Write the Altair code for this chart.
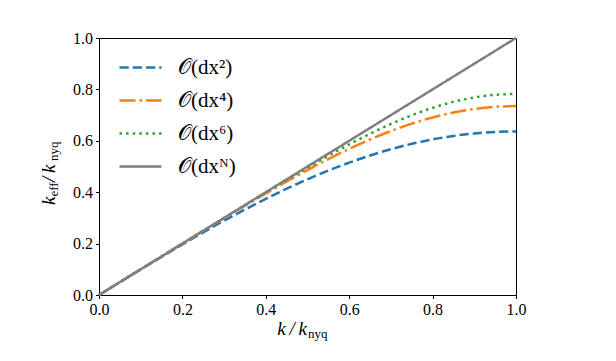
import altair as alt
import pandas as pd

# wavenumber axis k/k_nyq
k = [0.00, 0.05, 0.10, 0.15, 0.20, 0.25, 0.30, 0.35, 0.40, 0.45, 0.50,
     0.55, 0.60, 0.65, 0.70, 0.75, 0.80, 0.85, 0.90, 0.95, 1.00]
# effective wavenumber
o2 = [0.0, 0.0500, 0.0996, 0.1486, 0.1967, 0.2436, 0.2890, 0.3326, 0.3742, 0.4135, 0.4502,
      0.4841, 0.5150, 0.5428, 0.5672, 0.5882, 0.6055, 0.6190, 0.6288, 0.6347, 0.6366]
o4 = [0.0, 0.0500, 0.1000, 0.1500, 0.1998, 0.2495, 0.2988, 0.3474, 0.3952, 0.4416, 0.4862,
      0.5287, 0.5685, 0.6050, 0.6379, 0.6666, 0.6907, 0.7099, 0.7238, 0.7323, 0.7351]
o6 = [0.0, 0.0500, 0.1000, 0.1500, 0.2000, 0.2500, 0.2998, 0.3495, 0.3989, 0.4476, 0.4954,
      0.5417, 0.5860, 0.6275, 0.6655, 0.6994, 0.7283, 0.7516, 0.7687, 0.7791, 0.7826]
oN = [0.00, 0.05, 0.10, 0.15, 0.20, 0.25, 0.30, 0.35, 0.40, 0.45, 0.50,
      0.55, 0.60, 0.65, 0.70, 0.75, 0.80, 0.85, 0.90, 0.95, 1.00]

labels = ["𝒪(dx²)", "𝒪(dx⁴)", "𝒪(dx⁶)", "𝒪(dxᴺ)"]
colors = ["#1f77b4", "#ff7f0e", "#2ca02c", "#7f7f7f"]
dashes = [[9.25, 4], [16, 4, 2.5, 4], [2.5, 4.1], [1, 0]]
xticks = [0.0, 0.2, 0.4, 0.6, 0.8, 1.0]

rows = []
for lab, ys in zip(labels, [o2, o4, o6, oN]):
    for kv, yv in zip(k, ys):
        rows.append({"k": kv, "keff": yv, "series": lab})
df = pd.DataFrame(rows)

FONT = "Liberation Serif"
W, H = 417, 257

leg = alt.Legend(orient="none", legendX=19, legendY=7, title=None,
                 symbolType="stroke", symbolSize=1764, symbolStrokeWidth=2.5,
                 labelFont=FONT, labelFontSize=21, labelOffset=15, rowPadding=-1,
                 padding=0, labelColor="black", labelLimit=200)


def axis():
    return alt.Axis(values=xticks, format=".1f", labelFont=FONT, labelFontSize=16,
                    labelColor="black", tickColor="black", domainColor="black",
                    tickSize=3.5, tickWidth=1, domainWidth=1, grid=False, title=None,
                    labelPadding=3, labelFlush=False, labelOverlap=False)


base = alt.Chart(df).mark_line(strokeWidth=2.5, interpolate="monotone").encode(
    x=alt.X("k:Q", scale=alt.Scale(domain=[0, 1], nice=False), axis=axis()),
    y=alt.Y("keff:Q", scale=alt.Scale(domain=[0, 1], nice=False), axis=axis()),
    color=alt.Color("series:N", scale=alt.Scale(domain=labels, range=colors), legend=leg),
    strokeDash=alt.StrokeDash("series:N", scale=alt.Scale(domain=labels, range=dashes), legend=leg),
)
curves = base.transform_filter(alt.FieldOneOfPredicate(field="series", oneOf=labels[:3]))
ideal = base.transform_filter(alt.FieldEqualPredicate(field="series", equal=labels[3]))

one = pd.DataFrame({"a": [0]})


def piece(text, x, y, size, style="normal", angle=0, align="left"):
    return alt.Chart(one).mark_text(
        text=text, font=FONT, fontSize=size, fontStyle=style, angle=angle,
        align=align, baseline="alphabetic", color="black"
    ).encode(x=alt.value(x), y=alt.value(y))


xt = [
    piece("k\u2009/\u2009k", 208, 297, 19, "italic", align="right"),
    piece("nyq", 209, 300, 13),
]
yt = [
    piece("k", -44, 167, 19, "italic", angle=270),
    piece("eff", -41, 158.5, 13, angle=270),
    piece("\u2009/\u2009k", -44, 144, 19, "italic", angle=270),
    piece("nyq", -41, 123, 13, angle=270),
]

chart = alt.layer(curves, ideal, *xt, *yt).properties(
    width=W, height=H,
    autosize=alt.AutoSizeParams(type="none"),
    padding={"left": 91, "top": 30, "right": 90, "bottom": 50},
).configure_view(stroke="black", strokeWidth=1)

chart.save("out.html", embed_options={"renderer": "svg", "actions": False})
